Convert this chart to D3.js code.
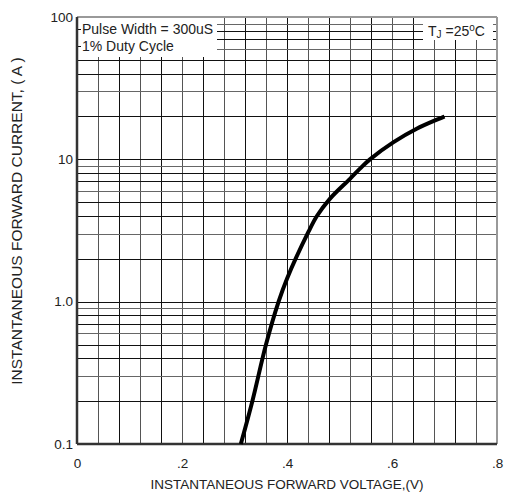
<!DOCTYPE html>
<html>
<head>
<meta charset="utf-8">
<script src="https://cdn.jsdelivr.net/npm/d3@7"></script>
<style>
  body { margin: 0; background: #fff; }
  text { font-family: "Liberation Sans", Arial, sans-serif; fill: #222; }
</style>
</head>
<body>
<script>
// curve
var voltage = [0.312, 0.334, 0.360, 0.384, 0.400, 0.441, 0.457, 0.482, 0.52, 0.539, 0.558, 0.603, 0.647, 0.70];
var current = [0.1, 0.2, 0.5, 1.0, 1.45, 3.1, 4.0, 5.3, 7.3, 8.6, 10, 13.2, 16.4, 20];

var xTicks = [0, 0.2, 0.4, 0.6, 0.8];
var xTickLabels = ["0", ".2", ".4", ".6", ".8"];
var yTicks = [0.1, 1, 10, 100];
var yTickLabels = ["0.1", "1.0", "10", "100"];

var svgWidth = 508;
var svgHeight = 497;
var margin = { top: 17, right: 11, bottom: 53, left: 77 };
var width = svgWidth - margin.left - margin.right;
var height = svgHeight - margin.top - margin.bottom;

var svg = d3.select("body").append("svg")
  .attr("width", svgWidth)
  .attr("height", svgHeight);

var chartGroup = svg.append("g")
  .attr("transform", `translate(${margin.left}, ${margin.top})`);

var xScale = d3.scaleLinear().domain([0, 0.8]).range([0, width]);
var yScale = d3.scaleLog().domain([0.1, 100]).range([height, 0]);

// grid: vertical every 0.04, horizontal 1..9 per decade
var xGrid = d3.range(1, 20).map(function(i) { return i * 0.04; });
var yGrid = [];
[0.1, 1, 10].forEach(function(d) {
  for (var k = 1; k <= 9; k++) yGrid.push(d * k);
});
yGrid = yGrid.filter(function(v) { return v > 0.1; });

chartGroup.append("g").selectAll("line")
  .data(xGrid)
  .enter().append("line")
  .attr("x1", d => Math.round(xScale(d)) + 0.5).attr("x2", d => Math.round(xScale(d)) + 0.5)
  .attr("y1", 0).attr("y2", height)
  .attr("stroke", (d, i) => i % 2 ? "#111" : "#555")
  .attr("stroke-width", 1);

chartGroup.append("g").selectAll("line")
  .data(yGrid)
  .enter().append("line")
  .attr("x1", 0).attr("x2", width)
  .attr("y1", d => Math.round(yScale(d)) + 0.5).attr("y2", d => Math.round(yScale(d)) + 0.5)
  .attr("stroke", (d, i) => i % 3 == 1 ? "#666" : "#111")
  .attr("stroke-width", 1);

// note boxes
chartGroup.append("rect")
  .attr("x", 0).attr("y", 0).attr("width", 140).attr("height", 40)
  .attr("fill", "#fff");
chartGroup.append("rect")
  .attr("x", 346).attr("y", 0).attr("width", 70).attr("height", 23)
  .attr("fill", "#fff");

chartGroup.append("line").attr("x1", 0).attr("x2", 4).attr("y1", 12.5).attr("y2", 12.5).attr("stroke", "#111");
chartGroup.append("line").attr("x1", 0).attr("x2", 4).attr("y1", 29.5).attr("y2", 29.5).attr("stroke", "#111");

chartGroup.append("text")
  .attr("x", 5).attr("y", 17)
  .style("font-size", "14px")
  .text("Pulse Width = 300uS");
chartGroup.append("text")
  .attr("x", 5).attr("y", 34)
  .style("font-size", "14px")
  .text("1% Duty Cycle");

var tj = chartGroup.append("text")
  .attr("x", 351).attr("y", 19)
  .style("font-size", "14px");
tj.append("tspan").text("T");
tj.append("tspan").attr("dy", 2).style("font-size", "10px").text("J");
tj.append("tspan").attr("dy", -2).text(" =25");
tj.append("tspan").attr("dy", -5).style("font-size", "10px").text("o");
tj.append("tspan").attr("dy", 5).text("C");

// frame
chartGroup.append("line").attr("x1", 0).attr("x2", width).attr("y1", 0).attr("y2", 0)
  .attr("stroke", "#999").attr("stroke-width", 2);
chartGroup.append("line").attr("x1", width).attr("x2", width).attr("y1", 0).attr("y2", height)
  .attr("stroke", "#999").attr("stroke-width", 2);
chartGroup.append("line").attr("x1", 0).attr("x2", width).attr("y1", height).attr("y2", height)
  .attr("stroke", "#333").attr("stroke-width", 2.5);
chartGroup.append("line").attr("x1", 0).attr("x2", 0).attr("y1", 0).attr("y2", height)
  .attr("stroke", "#333").attr("stroke-width", 2.5);

// curve
var points = voltage.map(function(v, i) { return [v, current[i]]; });
var line = d3.line()
  .x(d => xScale(d[0]))
  .y(d => yScale(d[1]))
  .curve(d3.curveCatmullRom.alpha(0.5));

chartGroup.append("path")
  .datum(points)
  .attr("d", line)
  .attr("fill", "none")
  .attr("stroke", "#000")
  .attr("stroke-width", 4)
  .attr("stroke-linecap", "butt");

// axes (labels only)
var bottomAxis = d3.axisBottom(xScale)
  .tickValues(xTicks)
  .tickFormat((d, i) => xTickLabels[i])
  .tickSize(0).tickPadding(14);
var leftAxis = d3.axisLeft(yScale)
  .tickValues(yTicks)
  .tickFormat((d, i) => yTickLabels[i])
  .tickSize(0).tickPadding(4);

var xAxisG = chartGroup.append("g")
  .attr("transform", `translate(0, ${height})`)
  .call(bottomAxis);
var yAxisG = chartGroup.append("g").call(leftAxis);

[xAxisG, yAxisG].forEach(function(g) {
  g.select(".domain").remove();
  g.selectAll("text")
    .style("font-size", "13.5px")
    .style("font-family", "Liberation Sans, Arial, sans-serif")
    .attr("fill", "#222");
});

// axis titles
svg.append("text")
  .attr("x", margin.left + width / 2)
  .attr("y", 489)
  .attr("text-anchor", "middle")
  .style("font-size", "13.5px")
  .text("INSTANTANEOUS FORWARD VOLTAGE,(V)");

svg.append("text")
  .attr("transform", "translate(22, 221) rotate(-90)")
  .attr("text-anchor", "middle")
  .style("font-size", "15.5px")
  .text("INSTANTANEOUS FORWARD CURRENT, ( A )");
</script>
</body>
</html>
